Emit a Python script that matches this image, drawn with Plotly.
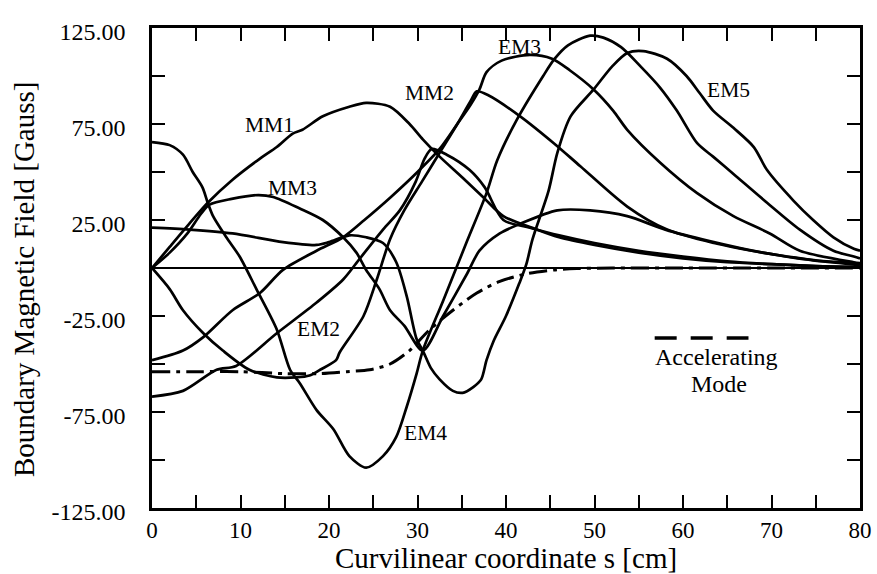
import plotly.graph_objects as go

# ---- data (s in cm, field in Gauss) ----
MM1_s = [0, 2, 4.2, 6.3, 9.1, 12.2, 14.1, 15.9, 17, 19.3, 22.3, 24.2, 26.9, 29.1, 30.6, 32.5, 35.1, 37.4, 39.7, 43.5, 46, 50, 55, 60, 65, 70, 75, 80]
MM1_v = [0, 11, 23, 34, 46, 57, 63, 70, 72, 79, 84, 86, 84, 75, 67, 58, 47, 37, 27, 20, 16, 12, 8, 5, 3, 2, 1, 0.5]

MM2_s = [0, 2, 3.5, 5.8, 8, 11, 14.1, 16.3, 17.8, 19, 20.8, 21.2, 23.9, 25.4, 26.9, 28.5, 30.5, 32.5, 34.5, 36, 36.7, 38, 41.6, 45.4, 48.4, 53.7, 58.2, 63.5, 69, 74.7, 79.3, 80]
MM2_v = [0, -11, -22, -34, -43, -53, -57, -57, -56, -53, -48, -44, -25, -6, 15, 30, 45, 60, 75, 87, 92, 90, 79, 65, 53, 32, 20, 13, 8, 4, 2.5, 2]

MM3_s = [0, 2, 4, 5.5, 6.5, 9, 12, 13.7, 16.7, 19.3, 21.6, 23.1, 24.2, 25.7, 26.9, 28.5, 30.6, 32.9, 35.6, 37, 39.3, 41.6, 45.8, 49.5, 53.7, 58, 63, 69, 75, 80]
MM3_v = [0, 8, 18, 28, 33, 36, 38, 37, 31, 25, 16, 8, -1, -11, -22, -30, -43, -25, -3, 9, 18, 23, 30, 30, 27, 20, 14, 8, 4, 1.5]

EM2_s = [0, 3.5, 7.3, 9.5, 14.1, 18.6, 21.6, 23.5, 26.1, 28, 29.8, 30.8, 31.6, 33.3, 35.9, 37.6, 39.7, 42.7, 46, 50, 55, 60, 65, 70, 75, 80]
EM2_v = [-67, -64, -53, -51, -34, -18, -6, 5, 20, 30, 45, 57, 62, 59, 51, 42, 25, 21, 17, 13, 9, 6, 3.5, 2, 1, 0.5]

EM3_s = [0, 3.5, 5.8, 9.1, 12.2, 14.8, 18.6, 21.6, 24, 27, 30, 32.5, 34.5, 36, 37, 37.8, 39.5, 42.7, 45.2, 47.2, 49.9, 52.1, 53.7, 57.4, 61.6, 65.7, 69.8, 73.2, 79.3, 80]
EM3_v = [-48, -43, -36, -22, -13, -1, 9, 16, 25, 37, 50, 62, 75, 85, 93, 102, 108, 111, 109, 103, 93, 82, 72, 55, 39, 27, 18, 9, 3, 2.5]

EM4_s = [0, 2, 3.5, 4.6, 5.7, 6.3, 6.9, 8.4, 9.9, 11.8, 14.1, 15.6, 16.7, 18.6, 20.5, 22.3, 24.2, 26.1, 27.6, 28.8, 29.9, 30.6, 32.9, 35.6, 37.8, 39, 41.2, 44.2, 45.5, 47, 49.5, 51, 53, 55.2, 57.4, 59.3, 61.6, 63.4, 65.7, 69.5, 73.2, 77, 79.3, 80]
EM4_v = [65.6, 64, 59, 50, 42, 34, 27, 16, 6, -11, -32, -53, -60, -74, -84, -98, -104, -98, -88, -72, -55, -43, -17, 14, 39, 56, 77, 100, 109, 116, 121, 120, 115, 105, 94, 82, 65, 58, 49, 34, 20, 9, 6, 5]

EM5_s = [0, 4.2, 9.1, 14.8, 18.6, 20, 22.3, 24.2, 26.1, 27.6, 28.8, 29.9, 30.6, 31.5, 32.5, 34, 35.1, 36.3, 37.2, 37.8, 38.6, 40, 41.5, 42.3, 43, 44.8, 45.8, 47.3, 49.9, 52, 53.7, 55.5, 58.2, 60.4, 61.9, 63.4, 65.7, 68, 69.5, 72.5, 74.7, 77, 79.3, 80]
EM5_v = [21, 20, 18, 13.5, 12, 13.5, 17, 16, 13, 3, -15, -37, -43, -52, -58, -64, -65, -62, -58, -48, -38, -25, -8, 2, 15, 40, 60, 79, 93, 105, 112, 113, 109, 100, 91, 82, 73, 63, 51, 35, 25, 16, 10, 9]

ACC_s = [0, 5, 10, 15, 19, 22, 24.6, 26.9, 29.1, 31.4, 34, 36.7, 39.3, 42.3, 45.4, 48, 52, 60, 70, 80]
ACC_v = [-54, -54, -54, -55, -55, -54, -53, -50, -43, -32, -22, -13, -7, -3, -1, -0.3, 0, 0, 0, 0]

LEGEND_s = [56.8, 67.4]
LEGEND_v = [-36.5, -36.5]

x_tickvals = list(range(0, 81, 5))
x_ticktext = [str(v) if v % 10 == 0 else "" for v in x_tickvals]
y_tickvals = list(range(-125, 126, 25))
y_ticktext = [f"{v:.2f}" if (v - 25) % 50 == 0 else "" for v in y_tickvals]

labels = [
    ("MM1", 13.3, 74.5), ("MM2", 31.4, 91), ("MM3", 15.9, 41.5),
    ("EM2", 18.8, -32), ("EM3", 41.5, 115), ("EM4", 30.9, -86),
    ("EM5", 65.1, 92.5),
]

FONT = "Liberation Serif, Times New Roman, serif"

fig = go.Figure()
solid = [(MM1_s, MM1_v, "MM1"), (MM2_s, MM2_v, "MM2"), (MM3_s, MM3_v, "MM3"),
         (EM2_s, EM2_v, "EM2"), (EM3_s, EM3_v, "EM3"), (EM4_s, EM4_v, "EM4"),
         (EM5_s, EM5_v, "EM5")]
for s, v, name in solid:
    fig.add_trace(go.Scatter(x=s, y=v, name=name, mode="lines",
                             line=dict(color="black", width=2.7, shape="spline", smoothing=0.8)))
fig.add_trace(go.Scatter(x=ACC_s, y=ACC_v, name="Accelerating Mode", mode="lines",
                         line=dict(color="black", width=3, shape="spline", smoothing=0.8,
                                   dash="18px,6px,4px,6px")))
fig.add_trace(go.Scatter(x=LEGEND_s, y=LEGEND_v, mode="lines", showlegend=False,
                         line=dict(color="black", width=3.5, dash="22px,14px")))

for text, s, v in labels:
    fig.add_annotation(x=s, y=v, text=text, showarrow=False, xref="x", yref="y",
                       font=dict(family=FONT, size=21.5, color="black"))
fig.add_annotation(x=63.8, y=-46.5, text="Accelerating", showarrow=False,
                   font=dict(family=FONT, size=24, color="black"))
fig.add_annotation(x=64.1, y=-60.5, text="Mode", showarrow=False,
                   font=dict(family=FONT, size=24, color="black"))

# y-axis title placed as a rotated annotation to match the reference position
fig.add_annotation(x=(24 - 152) / 708, y=(508 - 280) / 480, xref="paper", yref="paper",
                   text="Boundary Magnetic Field [Gauss]", showarrow=False, textangle=-90,
                   xanchor="center", yanchor="middle",
                   font=dict(family=FONT, size=29, color="black"))

fig.update_layout(
    width=877, height=574,
    margin=dict(l=152, r=17, t=28, b=66),
    paper_bgcolor="white", plot_bgcolor="white",
    showlegend=False,
    font=dict(family=FONT, color="black"),
    xaxis=dict(range=[0, 80], tickmode="array", tickvals=x_tickvals, ticktext=x_ticktext,
               ticks="inside", ticklen=13, tickwidth=2, tickcolor="black",
               showline=True, linewidth=2.5, linecolor="black", mirror="allticks",
               showgrid=False, zeroline=False, layer="above traces", automargin=False,
               tickfont=dict(family=FONT, size=23, color="black"),
               title=dict(text="Curvilinear coordinate s [cm]", standoff=8,
                          font=dict(family=FONT, size=29, color="black"))),
    yaxis=dict(range=[-125, 125], tickmode="array", tickvals=y_tickvals, ticktext=y_ticktext,
               ticks="inside", ticklen=13, tickwidth=2, tickcolor="black",
               showline=True, linewidth=2.5, linecolor="black", mirror="allticks",
               showgrid=False, zeroline=True, zerolinewidth=2, zerolinecolor="black",
               layer="above traces", ticklabelstandoff=19, ticklabelshift=4, automargin=False,
               tickfont=dict(family=FONT, size=24, color="black")),
)

fig.write_html("out.html")
